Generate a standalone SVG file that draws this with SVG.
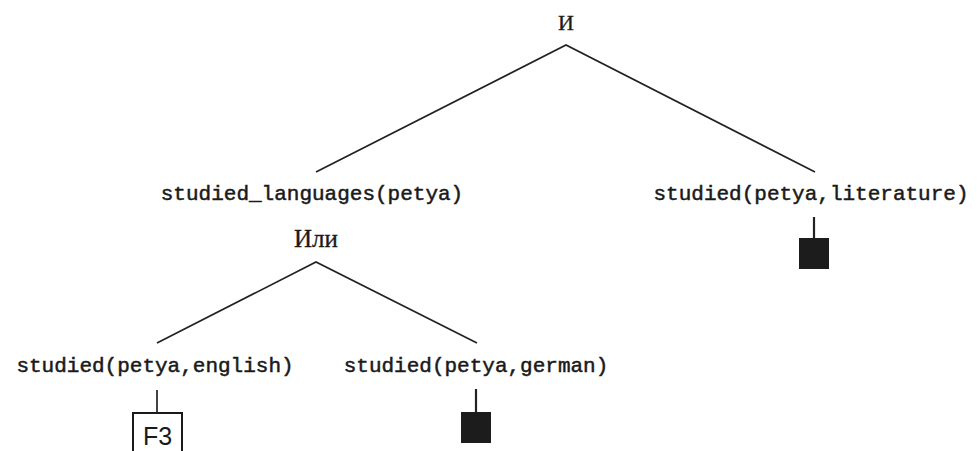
<svg xmlns="http://www.w3.org/2000/svg" width="977" height="451" viewBox="0 0 977 451">
<style>
.tt{font-family:"Liberation Mono","DejaVu Sans Mono",monospace;font-size:21px;fill:#1a1a1a;stroke:#1a1a1a;stroke-width:0.5;text-anchor:middle}
.rm{font-family:"Liberation Serif","DejaVu Serif",serif;fill:#1a1a1a;stroke:#1a1a1a;stroke-width:0.3;text-anchor:middle}
.ln{stroke:#222;stroke-width:1.7;fill:none}
.sq{fill:#1c1c1c}
</style>
<rect width="977" height="451" fill="#fff"/>
<g id="connectors">
<polyline class="ln" points="316,172 566,45 815,172"/>
<polyline class="ln" points="157,343 316,262 477,343"/>
<line class="ln" x1="814" y1="217" x2="814" y2="238" style="stroke-width:2.2"/>
<line class="ln" x1="476" y1="389" x2="476" y2="412" style="stroke-width:2.2"/>
<line class="ln" x1="157" y1="390" x2="157" y2="412"/>
</g>
<g id="and"><text class="rm" x="566" y="30" font-size="22">И</text></g>
<g id="studied_languages"><text class="tt" x="312" y="200">studied_languages(petya)</text></g>
<g id="literature"><text class="tt" x="811" y="200">studied(petya,literature)</text></g>
<g id="or"><text class="rm" x="316" y="247" font-size="25">Или</text></g>
<g id="english"><text class="tt" x="155" y="372">studied(petya,english)</text></g>
<g id="german"><text class="tt" x="476" y="372">studied(petya,german)</text></g>
<g id="leaf_literature"><rect class="sq" x="799" y="238" width="30" height="31"/></g>
<g id="leaf_german"><rect class="sq" x="461" y="412" width="30" height="31"/></g>
<g id="leaf_f3"><rect x="133" y="413" width="49" height="40" fill="#fff" stroke="#1a1a1a" stroke-width="2"/><text x="157.5" y="445" font-family="Liberation Sans, Arial, sans-serif" font-size="25" fill="#1a1a1a" text-anchor="middle">F3</text></g>
</svg>
